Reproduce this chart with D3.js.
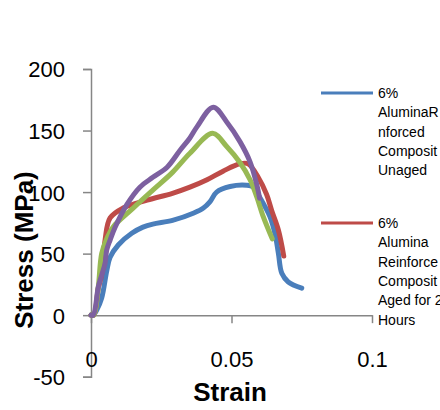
<!DOCTYPE html>
<html>
<head>
<meta charset="utf-8">
<script src="https://cdn.jsdelivr.net/npm/d3@7"></script>
<style>
  body { margin: 0; background: #fff; }
  svg { display: block; font-family: "Liberation Sans", Arial, sans-serif; }
</style>
</head>
<body>
<script>
// Stress-strain curves: [strain, stress (MPa)]
const unaged = [
  [0, 0], [0.0008, 0], [0.002, 4], [0.0038, 14], [0.0056, 36], [0.0068, 47],
  [0.0097, 57], [0.0145, 66.5], [0.0185, 71.5], [0.022, 74], [0.029, 77],
  [0.0366, 83], [0.040, 87], [0.0423, 92], [0.0447, 100], [0.0495, 104.5],
  [0.0554, 105.5], [0.0578, 104], [0.060, 96], [0.0637, 80], [0.0655, 66],
  [0.0667, 50], [0.0679, 34], [0.0702, 27], [0.075, 22]
];
const aged24 = [
  [0, 0], [0.001, 0], [0.0026, 22], [0.0038, 33], [0.005, 61], [0.0068, 79],
  [0.0114, 87], [0.020, 93.5], [0.029, 99], [0.0352, 104], [0.0413, 110],
  [0.047, 117], [0.053, 123], [0.0559, 123], [0.0595, 112], [0.0625, 98],
  [0.0643, 85], [0.0667, 69], [0.0686, 48]
];
const series3 = [
  [0, 0], [0.001, 0], [0.0026, 23], [0.0038, 50], [0.0056, 62], [0.0078, 71.5],
  [0.015, 87], [0.022, 101.6], [0.029, 116], [0.0352, 131.5], [0.0433, 147.7],
  [0.0483, 137], [0.053, 124], [0.0566, 110], [0.059, 96], [0.0613, 80],
  [0.0645, 62]
];
const series4 = [
  [0, 0], [0.0008, 0], [0.0026, 23], [0.0038, 32.5], [0.005, 42], [0.0056, 53],
  [0.0068, 61], [0.0085, 71], [0.0128, 90], [0.0174, 104], [0.022, 112],
  [0.027, 120], [0.0317, 134], [0.0352, 144], [0.0377, 153], [0.0435, 169],
  [0.0483, 157], [0.053, 141], [0.0566, 124.6], [0.059, 106], [0.060, 95]
];

const xTicks = [0, 0.05, 0.1];
const yTicks = [-50, 0, 50, 100, 150, 200];

// legend text as it shows inside the picture
const legendUnaged = ["6%", "AluminaR", "nforced", "Composit", "Unaged"];
const legendAged = ["6%", "Alumina", "Reinforce", "Composit", "Aged for 2", "Hours"];

const w = 440, h = 410;
const axisColor = "#868686";
const colors = ["#4a7ebb", "#be4b48", "#98b954", "#7d60a0"];

const svg = d3.select("body").append("svg")
  .attr("width", w)
  .attr("height", h);

const x = d3.scaleLinear().domain([0, 0.1]).range([91, 372]);
const y = d3.scaleLinear().domain([-50, 200]).range([376.7, 69]);

// y axis
const yAxis = d3.axisLeft(y).tickValues(yTicks).tickSize(8).tickFormat(d3.format("d"));
const gy = svg.append("g").attr("transform", "translate(" + x(0) + ",0)").call(yAxis);
gy.select(".domain").attr("stroke", axisColor).attr("stroke-width", 1.5);
gy.selectAll(".tick line").attr("stroke", axisColor).attr("stroke-width", 1.5);
gy.selectAll(".tick text")
  .attr("x", -26)
  .attr("dy", "0.36em")
  .attr("fill", "#000")
  .style("font-size", "22px")
  .text(d => d < 0 ? "-" + Math.abs(d) : d);

// x axis (crosses at 0)
const xAxis = d3.axisBottom(x).tickValues(xTicks).tickSize(8).tickSizeOuter(0).tickFormat(d => d);
const gx = svg.append("g").attr("transform", "translate(0," + y(0) + ")").call(xAxis);
gx.select(".domain").attr("stroke", axisColor).attr("stroke-width", 1.5);
gx.selectAll(".tick line").attr("stroke", axisColor).attr("stroke-width", 1.5);
gx.selectAll(".tick text")
  .attr("y", y(-50) - y(0) - 10)
  .attr("dy", 0)
  .attr("fill", "#000")
  .style("font-size", "22px");

// lines
const line = d3.line()
  .x(d => x(d[0]))
  .y(d => y(d[1]))
  .curve(d3.curveCatmullRom.alpha(0.5));

[unaged, aged24, series3, series4].forEach((s, i) => {
  svg.append("path")
    .datum(s)
    .attr("d", line)
    .attr("fill", "none")
    .attr("stroke", colors[i])
    .attr("stroke-width", 5)
    .attr("stroke-linecap", "round")
    .attr("stroke-linejoin", "round");
});

// axis titles
svg.append("text")
  .attr("x", 230)
  .attr("y", 401)
  .attr("text-anchor", "middle")
  .style("font-size", "26px")
  .style("font-weight", "bold")
  .text("Strain");

svg.append("text")
  .attr("transform", "translate(33,250) rotate(-90)")
  .attr("text-anchor", "middle")
  .style("font-size", "26px")
  .style("font-weight", "bold")
  .text("Stress (MPa)");

// legend
function legendEntry(lines, color, cy) {
  svg.append("line")
    .attr("x1", 321).attr("x2", 373)
    .attr("y1", cy).attr("y2", cy)
    .attr("stroke", color)
    .attr("stroke-width", 3);
  const t = svg.append("text")
    .attr("x", 378)
    .attr("y", cy + 5)
    .style("font-size", "14px");
  lines.forEach((l, i) => {
    t.append("tspan")
      .attr("x", 378)
      .attr("dy", i === 0 ? 0 : 19.3)
      .text(l);
  });
}
legendEntry(legendUnaged, colors[0], 93);
legendEntry(legendAged, colors[1], 223);
</script>
</body>
</html>
